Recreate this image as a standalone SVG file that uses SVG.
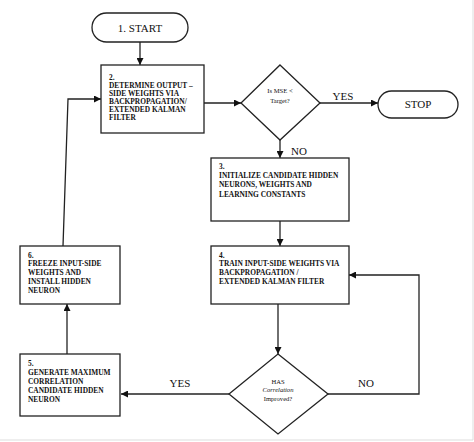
<svg xmlns="http://www.w3.org/2000/svg" width="474" height="442" viewBox="0 0 474 442">
<defs>
<marker id="ah" viewBox="0 0 10 10" refX="10" refY="5" markerWidth="7" markerHeight="7" markerUnits="userSpaceOnUse" orient="auto">
<path d="M0,0 L10,5 L0,10 z" fill="#111"/>
</marker>
<style>
.sh{fill:#fff;stroke:#222;stroke-width:1.3}
.ln{fill:none;stroke:#222;stroke-width:1.3}
.bt{font-family:"Liberation Serif","Times New Roman",serif;font-size:7.4px;font-weight:bold;fill:#111}
.tt{font-family:"Liberation Serif","Times New Roman",serif;font-size:11px;fill:#111}
.dt{font-family:"Liberation Serif","Times New Roman",serif;font-size:6.6px;fill:#111;text-anchor:middle}
.lb{font-family:"Liberation Serif","Times New Roman",serif;font-size:11px;fill:#111;text-anchor:middle}
</style>
</defs>
<rect width="474" height="442" fill="#fff"/>
<polyline points="473,0 473,440 0,440" fill="none" stroke="#ddd" stroke-width="1"/>
<g id="connectors">
<line class="ln" x1="140" y1="42" x2="140" y2="65" marker-end="url(#ah)"/>
<line class="ln" x1="204" y1="103" x2="241" y2="103" marker-end="url(#ah)"/>
<line class="ln" x1="320" y1="103" x2="378" y2="103" marker-end="url(#ah)"/>
<line class="ln" x1="280" y1="140" x2="280" y2="158" marker-end="url(#ah)"/>
<line class="ln" x1="280" y1="221" x2="280" y2="246" marker-end="url(#ah)"/>
<line class="ln" x1="278" y1="304" x2="278" y2="354" marker-end="url(#ah)"/>
<line class="ln" x1="229" y1="394" x2="121" y2="394" marker-end="url(#ah)"/>
<polyline class="ln" points="328,394 419,394 419,275 349,275" marker-end="url(#ah)"/>
<line class="ln" x1="67" y1="354" x2="67" y2="304" marker-end="url(#ah)"/>
<polyline class="ln" points="63,246 68,99 101,99" marker-end="url(#ah)"/>
<text class="lb" x="343" y="100">YES</text>
<text class="lb" x="299" y="155">NO</text>
<text class="lb" x="180" y="387">YES</text>
<text class="lb" x="366" y="387">NO</text>
</g>
<g id="start">
<rect class="sh" x="92" y="13" width="96" height="29" rx="14.5"/>
<text class="tt" x="140" y="31.5" text-anchor="middle">1. START</text>
</g>
<g id="step2">
<rect class="sh" x="101" y="65" width="103" height="68"/>
<text class="bt" x="109" y="79.5">2.</text>
<text class="bt" x="109" y="87.5">DETERMINE OUTPUT –</text>
<text class="bt" x="109" y="95.5">SIDE WEIGHTS VIA</text>
<text class="bt" x="109" y="103.5">BACKPROPAGATION/</text>
<text class="bt" x="109" y="111.5">EXTENDED KALMAN</text>
<text class="bt" x="109" y="119.5">FILTER</text>
</g>
<g id="decision1">
<polygon class="sh" points="280,65 320,103 280,140 241,103"/>
<text class="dt" x="280" y="92.5">Is  MSE &lt;</text>
<text class="dt" x="280" y="102.5">Target?</text>
</g>
<g id="stop">
<rect class="sh" x="378" y="91" width="80" height="27" rx="13.5"/>
<text class="tt" x="418" y="108" text-anchor="middle">STOP</text>
</g>
<g id="step3">
<rect class="sh" x="211" y="158" width="138" height="63"/>
<text class="bt" x="219" y="168.5">3.</text>
<text class="bt" x="219" y="178">INITIALIZE CANDIDATE HIDDEN</text>
<text class="bt" x="219" y="187">NEURONS, WEIGHTS AND</text>
<text class="bt" x="219" y="196.5">LEARNING CONSTANTS</text>
</g>
<g id="step4">
<rect class="sh" x="211" y="246" width="138" height="58"/>
<text class="bt" x="219" y="257.5">4.</text>
<text class="bt" x="219" y="266">TRAIN INPUT-SIDE WEIGHTS VIA</text>
<text class="bt" x="219" y="274.5">BACKPROPAGATION /</text>
<text class="bt" x="219" y="283.5">EXTENDED KALMAN FILTER</text>
</g>
<g id="decision2">
<polygon class="sh" points="278,354 328,394 278,434 229,394"/>
<text class="dt" x="278" y="383.5">HAS</text>
<text class="dt" x="278" y="392" font-style="italic">Correlation</text>
<text class="dt" x="278" y="400.5">Improved?</text>
</g>
<g id="step5">
<rect class="sh" x="20" y="354" width="100" height="62"/>
<text class="bt" x="28" y="366">5.</text>
<text class="bt" x="28" y="374.5">GENERATE MAXIMUM</text>
<text class="bt" x="28" y="383.5">CORRELATION</text>
<text class="bt" x="28" y="392.5">CANDIDATE HIDDEN</text>
<text class="bt" x="28" y="401.5">NEURON</text>
</g>
<g id="step6">
<rect class="sh" x="20" y="246" width="100" height="58"/>
<text class="bt" x="28" y="257.5">6.</text>
<text class="bt" x="28" y="266">FREEZE INPUT-SIDE</text>
<text class="bt" x="28" y="274.5">WEIGHTS AND</text>
<text class="bt" x="28" y="283.5">INSTALL HIDDEN</text>
<text class="bt" x="28" y="292.5">NEURON</text>
</g>
</svg>
